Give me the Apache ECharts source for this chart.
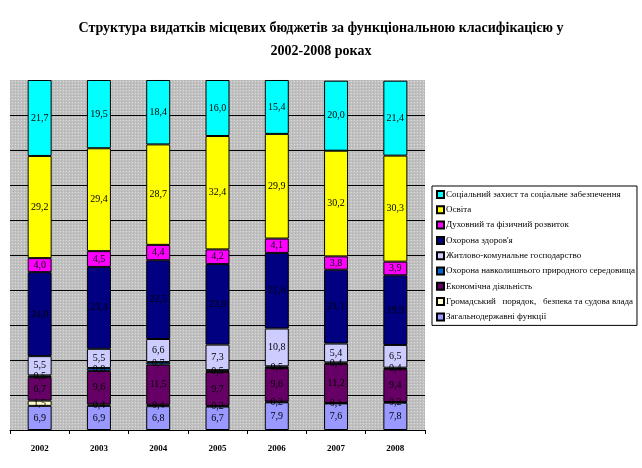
<!DOCTYPE html>
<html>
<head>
<meta charset="utf-8">
<script src="https://cdn.jsdelivr.net/npm/echarts@6/dist/echarts.min.js"></script>
<style>
html,body{margin:0;padding:0;background:#fff;}
#c{width:642px;height:468px;}
</style>
</head>
<body>
<div id="c"></div>
<script>
const years = ['2002','2003','2004','2005','2006','2007','2008'];
const titleLines = [
  'Структура видатків місцевих бюджетів за функціональною класифікацією у',
  '2002-2008 роках'
];
const names = [
  'Загальнодержавні функції',
  'Громадський   порядок,   безпека та судова влада',
  'Економічна діяльність',
  'Охорона навколишнього природного середовища',
  'Житлово-комунальне господарство',
  'Охорона здоров\'я',
  'Духовний та фізичний розвиток',
  'Освіта',
  'Соціальний захист та соціальне забезпечення'
];
const generalFunctions = [6.9, 6.9, 6.8, 6.7, 7.9, 7.6, 7.8];
const publicOrder      = [1.5, 0.4, 0.4, 0.2, 0.2, 0.1, 0.2];
const economic         = [6.7, 9.6, 11.5, 9.7, 9.6, 11.2, 9.4];
const environment      = [0.5, 0.8, 0.7, 0.5, 0.5, 0.4, 0.4];
const housing          = [5.5, 5.5, 6.6, 7.3, 10.8, 5.4, 6.5];
const health           = [24.0, 23.4, 22.5, 23.0, 21.6, 21.1, 19.9];
const culture          = [4.0, 4.5, 4.4, 4.2, 4.1, 3.8, 3.9];
const education        = [29.2, 29.4, 28.7, 32.4, 29.9, 30.2, 30.3];
const social           = [21.7, 19.5, 18.4, 16.0, 15.4, 20.0, 21.4];

const seriesValues = [generalFunctions, publicOrder, economic, environment, housing, health, culture, education, social];
const colors = ['#9999ff','#ffffcc','#660066','#0066cc','#ccccff','#000080','#ff00ff','#ffff00','#00ffff'];

// dotted gray background pattern
const pc = document.createElement('canvas');
pc.width = 3; pc.height = 3;
const pctx = pc.getContext('2d');
pctx.fillStyle = '#c0c0c0'; pctx.fillRect(0,0,3,3);
pctx.fillStyle = '#dcdcdc'; pctx.fillRect(0,0,1,1);
pctx.fillStyle = '#b0b0b0'; pctx.fillRect(1,2,1,1);

const chart = echarts.init(document.getElementById('c'), null, {renderer:'canvas'});
const series = seriesValues.map((vals, i) => ({
  name: names[i],
  type: 'bar',
  stack: 'total',
  barWidth: 24,
  data: vals,
  itemStyle: {color: colors[i], borderColor: '#000', borderWidth: 1},
  label: {
    show: true,
    position: 'inside',
    fontFamily: 'Liberation Serif',
    fontSize: 10,
    color: '#000',
    formatter: p => p.value.toFixed(1).replace('.', ',')
  },
  emphasis: {disabled: true}
}));

const titleStyle = {fontFamily: 'Liberation Serif', fontSize: 14, fontWeight: 'bold', color: '#000'};

chart.setOption({
  animation: false,
  title: [
    {text: titleLines[0], left: 'center', top: 21, padding: 0, textStyle: titleStyle},
    {text: titleLines[1], left: 'center', top: 44, padding: 0, textStyle: titleStyle}
  ],
  legend: {
    orient: 'vertical',
    left: 432,
    top: 186,
    data: names.slice().reverse(),
    itemWidth: 7,
    itemHeight: 7,
    itemGap: 6.3,
    padding: [4, 2, 4, 4],
    borderColor: '#000',
    borderWidth: 1,
    backgroundColor: '#fff',
    icon: 'rect',
    textStyle: {fontFamily: 'Liberation Serif', fontSize: 9, color: '#000', padding: [0,0,0,-3]},
    selectedMode: false
  },
  grid: {
    left: 10, right: 217, top: 80, bottom: 38,
    show: true,
    backgroundColor: {image: pc, repeat: 'repeat'},
    borderWidth: 0
  },
  xAxis: {
    type: 'category',
    data: years,
    axisLine: {lineStyle: {color: '#000', width: 1}},
    axisTick: {show: true, length: 4, lineStyle: {color: '#000'}},
    axisLabel: {fontFamily: 'Liberation Serif', fontSize: 9, fontWeight: 'bold', color: '#000', margin: 14}
  },
  yAxis: {
    type: 'value',
    min: 0, max: 100, interval: 10,
    axisLine: {show: false},
    axisTick: {show: false},
    axisLabel: {show: false},
    splitLine: {show: true, showMaxLine: false, lineStyle: {color: '#000', width: 1}}
  },
  series: series
});
</script>
</body>
</html>
